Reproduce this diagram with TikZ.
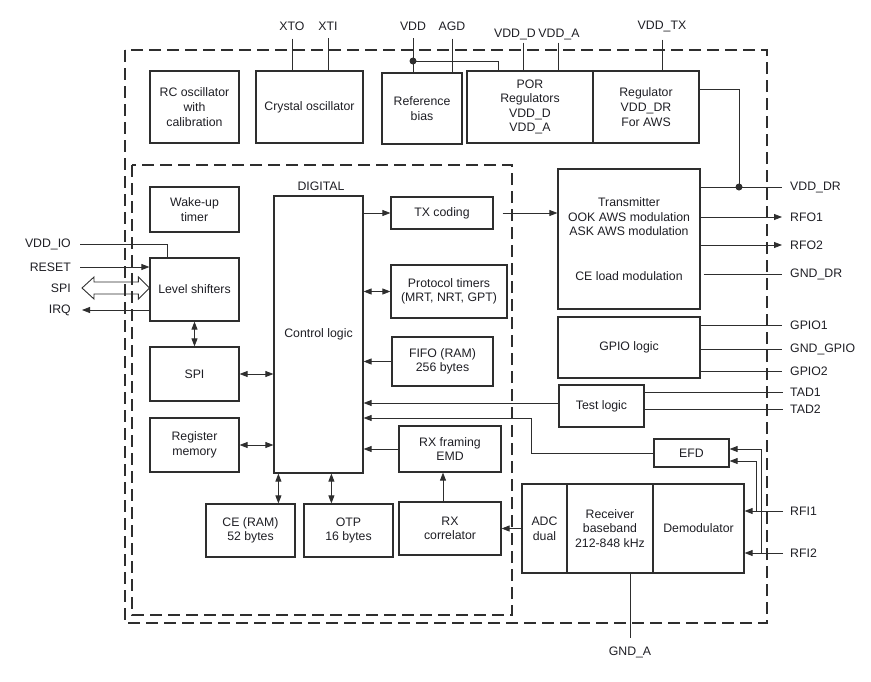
\documentclass[tikz,border=0pt]{standalone}
\usepackage{fontspec}
\setmainfont{Liberation Sans}
\usetikzlibrary{arrows.meta,calc}
\definecolor{ln}{HTML}{2E2E2E}
\definecolor{tx}{HTML}{1E1E24}
\newcommand{\bx}[6]{\node[box, minimum width={#4-#2}, minimum height={#5-#3}] (#1) at ({(#2+#4)/2},{(#3+#5)/2}) {#6};}
\tikzset{
  txtfont/.style={font=\fontsize{12.3}{14.6}\selectfont},
  box/.style={draw=ln, line width=1.2pt, inner sep=0pt, align=center, text=tx, txtfont},
  lbl/.style={inner sep=0pt, text=tx, txtfont},
  wire/.style={draw=ln, line width=0.8pt},
  arr/.style={wire, -{Triangle[length=8pt,width=6pt]}},
  darr/.style={wire, {Triangle[length=8pt,width=6pt]}-{Triangle[length=8pt,width=6pt]}},
  dashbox/.style={draw=ln, line width=1.2pt, dash pattern=on 12pt off 6pt},
  jdot/.style={circle, fill=ln, inner sep=0pt, minimum size=7pt}
}
\begin{document}
\begin{tikzpicture}[x=1pt,y=-1pt]
\useasboundingbox (0,0) rectangle (871,681);
% dashed enclosures
\draw[dashbox] (125,50) rectangle (767,623);
\draw[dashbox] (132,165) rectangle (512,615);
\node[lbl] (digital) at (321,186) {DIGITAL};
% top row
\bx{rc}{150}{71}{239}{143}{RC oscillator\\with\\calibration}
\bx{xtal}{256}{71}{363}{143}{Crystal oscillator}
\bx{ref}{382}{73}{462}{144}{Reference\\bias}
\bx{por}{467}{71}{593}{143}{POR\\Regulators\\VDD\_D\\VDD\_A}
\bx{reg}{593}{71}{699}{143}{Regulator\\VDD\_DR\\For AWS}
% left column
\bx{wake}{150}{187}{239}{232}{Wake-up\\timer}
\bx{lvl}{150}{258}{239}{321}{Level shifters}
\bx{spi}{150}{347}{239}{401}{SPI}
\bx{regm}{150}{418}{239}{472}{Register\\memory}
% digital core
\bx{ctrl}{274}{196}{363}{473}{Control logic}
\bx{tx}{391}{197}{493}{229}{TX coding}
\bx{prot}{391}{265}{507}{318}{Protocol timers\\(MRT, NRT, GPT)}
\bx{fifo}{392}{337}{493}{386}{FIFO (RAM)\\256 bytes}
\bx{rxf}{399}{426}{501}{472}{RX framing\\EMD}
\bx{ce}{206}{504}{295}{557}{CE (RAM)\\52 bytes}
\bx{otp}{304}{504}{393}{557}{OTP\\16 bytes}
\bx{rxc}{399}{502}{501}{555}{RX\\correlator}
% right side
\bx{trans}{558}{169}{700}{309}{Transmitter\\OOK AWS modulation\\ASK AWS modulation\\[30pt]CE load modulation}
\bx{gpio}{558}{317}{700}{378}{GPIO logic}
\bx{test}{559}{385}{644}{427}{Test logic}
\bx{efd}{654}{439}{729}{467}{EFD}
\bx{adc}{522}{484}{567}{573}{ADC\\dual}
\bx{rcv}{567}{484}{653}{573}{Receiver\\baseband\\212-848 kHz}
\bx{dem}{653}{484}{744}{573}{Demodulator}
% top pins
\node[lbl] (XTO) at (292,26) {XTO};
\node[lbl] (XTI) at (328,26) {XTI};
\node[lbl] (VDD) at (413,26) {VDD};
\node[lbl] (AGD) at (452,26) {AGD};
\node[lbl] (VDDD) at (515,34) {VDD\_D};
\node[lbl] (VDDA) at (559,34) {VDD\_A};
\node[lbl] (VDDTX) at (662,26) {VDD\_TX};
\draw[wire] ([yshift=-8pt]XTO.south) -- (XTO.south |- xtal.north);
\draw[wire] ([yshift=-8pt]XTI.south) -- (XTI.south |- xtal.north);
\draw[wire] ([yshift=-8pt]VDD.south) -- (VDD.south |- ref.north);
\draw[wire] ([yshift=-8pt]AGD.south) -- (AGD.south |- ref.north);
\coordinate (pd) at ([xshift=8pt,yshift=-3pt]VDDD.south);
\coordinate (pa) at ([xshift=-1pt,yshift=-3pt]VDDA.south);
\draw[wire] (pd) -- (pd |- por.north);
\draw[wire] (pa) -- (pa |- por.north);
\draw[wire] ([yshift=-8pt]VDDTX.south) -- (VDDTX.south |- reg.north);
\node[jdot] (jv) at (413,61) {};
\draw[wire] (jv.center) -| ([xshift=32pt]por.north west);
% right pins
\node[lbl, anchor=west] (VDDDR) at (790,187) {VDD\_DR};
\node[lbl, anchor=west] (RFO1) at (790,217) {RFO1};
\node[lbl, anchor=west] (RFO2) at (790,245) {RFO2};
\node[lbl, anchor=west] (GNDDR) at (790,274) {GND\_DR};
\node[lbl, anchor=west] (GPIO1) at (790,325) {GPIO1};
\node[lbl, anchor=west] (GNDGPIO) at (790,349) {GND\_GPIO};
\node[lbl, anchor=west] (GPIO2) at (790,371) {GPIO2};
\node[lbl, anchor=west] (TAD1) at (790,392) {TAD1};
\node[lbl, anchor=west] (TAD2) at (790,409) {TAD2};
\node[lbl, anchor=west] (RFI1) at (790,511) {RFI1};
\node[lbl, anchor=west] (RFI2) at (790,553) {RFI2};
\node[lbl] (GNDA) at (630,652) {GND\_A};
\coordinate (rb1) at (739,89);
\node[jdot] (jd) at (739,187) {};
\draw[wire] (reg.east |- rb1) -- (rb1) -- (jd.center);
\draw[wire] (trans.east |- VDDDR) -- ([xshift=-8pt]VDDDR.west);
\draw[arr] (trans.east |- RFO1) -- ([xshift=-8pt]RFO1.west);
\draw[arr] (trans.east |- RFO2) -- ([xshift=-8pt]RFO2.west);
\draw[wire] ([xshift=3pt]trans.east |- GNDDR) -- ([xshift=-8pt]GNDDR.west);
\draw[wire] (gpio.east |- GPIO1) -- ([xshift=-8pt]GPIO1.west);
\draw[wire] (gpio.east |- GNDGPIO) -- ([xshift=-8pt]GNDGPIO.west);
\draw[wire] (gpio.east |- GPIO2) -- ([xshift=-8pt]GPIO2.west);
\draw[wire] (test.east |- TAD1) -- ([xshift=-7pt]TAD1.west);
\draw[wire] (test.east |- TAD2) -- ([xshift=-7pt]TAD2.west);
\draw[arr] ([xshift=-7pt]RFI1.west) -- (dem.east |- RFI1);
\draw[arr] ([xshift=-7pt]RFI2.west) -- (dem.east |- RFI2);
\coordinate (k1) at (756,511);
\coordinate (k2) at (761,553);
\draw[arr] (k1) |- ([yshift=-8pt]efd.east);
\draw[arr] (k2) |- ([yshift=4pt]efd.east);
\draw[wire] (GNDA.north |- rcv.south) -- ([yshift=8pt]GNDA.north);
% internal right-side connections
\coordinate (tl) at ([yshift=3pt]test.west);
\draw[arr] (tl) -- (ctrl.east |- tl);
\coordinate (ek) at (531,418);
\draw[arr] (efd.west) -| (ek) -- (ctrl.east |- ek);
\draw[arr] (adc.west) -- (rxc.east |- adc.west);
\draw[arr] ([xshift=-7pt]rxc.north) -- ([xshift=-7pt]rxc.north |- rxf.south);
\draw[arr] ([xshift=9pt]tx.east) -- (trans.west |- tx.east);
% digital internal
\draw[arr] (ctrl.east |- tx.west) -- (tx.west);
\draw[darr] (ctrl.east |- prot.west) -- (prot.west);
\draw[arr] (fifo.west) -- (ctrl.east |- fifo.west);
\draw[arr] (rxf.west) -- (ctrl.east |- rxf.west);
\coordinate (cea) at ([xshift=5pt]ctrl.south west);
\coordinate (otpa) at ([xshift=58pt]ctrl.south west);
\draw[darr] (cea) -- (cea |- ce.north);
\draw[darr] (otpa) -- (otpa |- otp.north);
\draw[darr] (spi.east) -- (ctrl.west |- spi.east);
\draw[darr] (regm.east) -- (ctrl.west |- regm.east);
\draw[darr] (lvl.south) -- (spi.north);
% left pins
\node[lbl, anchor=east] (VDDIO) at (71,244) {VDD\_IO};
\node[lbl, anchor=east] (RESET) at (71,267) {RESET};
\node[lbl, anchor=east] (SPIl) at (71,288) {SPI};
\node[lbl, anchor=east] (IRQ) at (71,310) {IRQ};
\draw[wire] ([xshift=9pt]VDDIO.east) -| ([xshift=18pt]lvl.north west);
\draw[arr] ([xshift=9pt]RESET.east) -- (lvl.west |- RESET);
\draw[arr] (lvl.west |- IRQ) -- ([xshift=11pt]IRQ.east);
\coordinate (ha) at ([xshift=11pt]SPIl.east);
\coordinate (hb) at (lvl.west |- SPIl);
\draw[wire, line width=0.9pt] (ha) -- ++(12,-11) -- ++(0,5) -- ($(hb)+(-11,-6)$) -- ++(0,-5) -- (hb) -- ++(-11,11) -- ++(0,-5) -- ($(ha)+(12,6)$) -- ++(0,5) -- cycle;
\end{tikzpicture}
\end{document}
